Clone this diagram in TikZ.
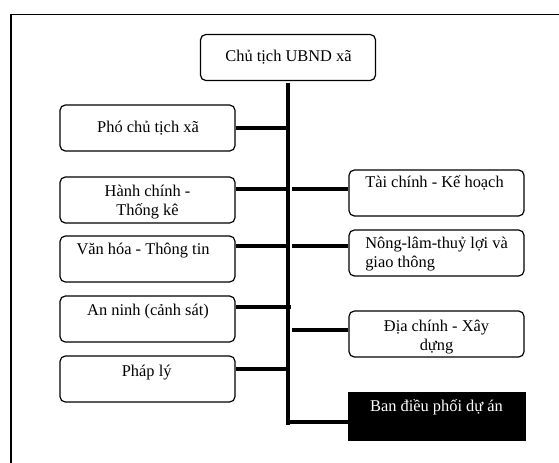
\documentclass[tikz,border=0pt]{standalone}
\usepackage{fontspec}
\setmainfont{Liberation Serif}
\begin{document}
\begin{tikzpicture}[x=0.75pt,y=-0.75pt,
  font=\fontsize{12.3}{13.9}\selectfont,
  unit/.style={draw, line width=0.9pt, rounded corners=4pt, inner sep=0pt,
    minimum width=131.25pt, minimum height=34.5pt},
  board/.style={fill=black, inner sep=0pt, minimum width=133.5pt, minimum height=36.75pt},
  lbl/.style={inner sep=0pt, anchor=base, align=center},
  lbll/.style={inner sep=0pt, anchor=base west, align=left},
  conn/.style={line width=2.3pt},
  frame/.style={line width=1.1pt}]
\useasboundingbox (0,0) rectangle (559,462);

% page frame
\draw[frame] (11,470) -- (11,14.5) -- (575,14.5);

% boxes
\node[unit] (head) at (288,57.5) {};
\node[unit] (pho) at (147.5,128) {};
\node[unit] (hc)  at (147.5,200) {};
\node[unit] (vh)  at (147.5,259) {};
\node[unit] (an)  at (147.5,319) {};
\node[unit] (pl)  at (147.5,379) {};
\node[unit] (tc)  at (436.5,193) {};
\node[unit] (nl)  at (436.5,253) {};
\node[unit] (dc)  at (436.5,334) {};
\node[board] (bd) at (437,416.5) {};

% labels (two-line labels are anchored on their last line)
\node[lbl] (headT) at (288.5,61.7) {Chủ tịch UBND xã};
\node[lbl] (phoT) at (148,132.3) {Phó chủ tịch xã};
\node[lbl] (hcT)  at (147.5,215) {Hành chính -\\Thống kê};
\node[lbl] (vhT)  at (143,254) {Văn hóa - Thông tin};
\node[lbl] (anT)  at (148,315) {An ninh (cảnh sát)};
\node[lbl] (plT)  at (146.7,376.7) {Pháp lý};
\node[lbll] (tcT) at (365,187.3) {Tài chính - Kế hoạch};
\node[lbll] (nlT) at (365,267) {Nông-lâm-thuỷ lợi và\\giao thông};
\node[lbl] (dcT)  at (436.5,350) {Địa chính - Xây\\dựng};
\node[lbl, text=white] (bdT) at (436.5,411.7) {Ban điều phối dự án};

% trunk
\coordinate (tbot) at (288,425);
\draw[conn] ([yshift=-1.5pt]head.south) -- (head.south |- tbot);

% branches on the left
\draw[conn] (pho.east) coordinate (phoE) -- (phoE -| head.south);
\draw[conn] ([yshift=8.25pt]hc.east) coordinate (hcE) -- (hcE -| head.south);
\draw[conn] ([yshift=9.75pt]vh.east) coordinate (vhE) -- (vhE -| head.south);
\draw[conn, shorten >=-2pt] ([yshift=9pt]an.east) coordinate (anE) -- (anE -| head.south);
\draw[conn] ([yshift=7.5pt]pl.east) coordinate (plE) -- (plE -| head.south);

% branches on the right
\draw[conn, shorten >=3pt] ([yshift=3pt]tc.west) coordinate (tcW) -- (tcW -| head.south);
\draw[conn, shorten >=3pt] ([yshift=5.25pt]nl.west) coordinate (nlW) -- (nlW -| head.south);
\draw[conn, shorten >=3pt] ([yshift=3pt]dc.west) coordinate (dcW) -- (dcW -| head.south);
\draw[conn] ([yshift=-4.1pt]bd.west) coordinate (bdW) -- (bdW -| head.south);
\end{tikzpicture}
\end{document}
